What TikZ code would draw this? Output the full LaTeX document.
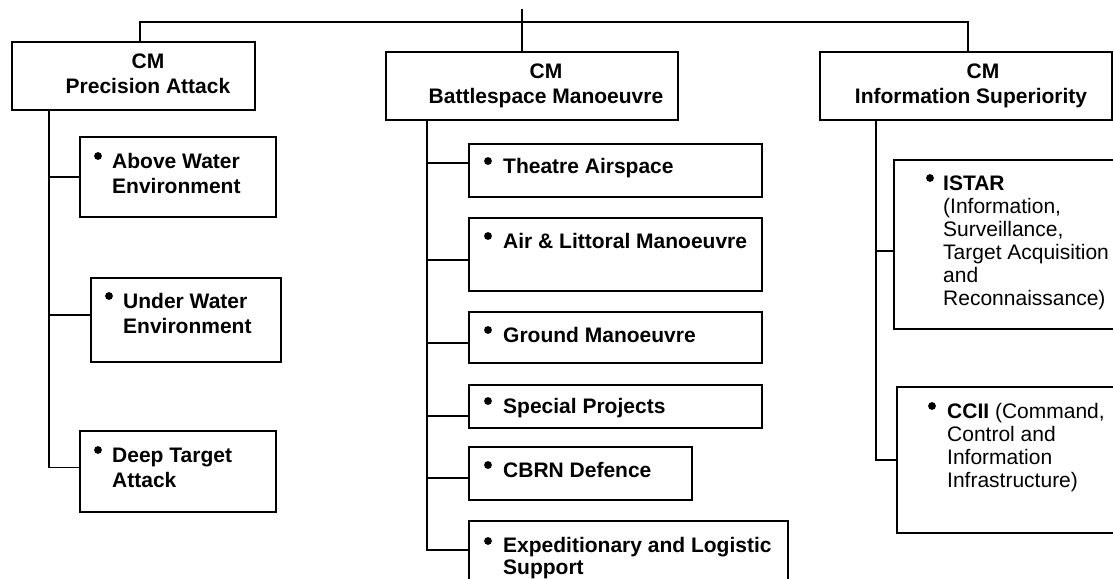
\documentclass[tikz,border=0pt]{standalone}
\usepackage{fontspec}
\setmainfont{Liberation Sans}
\usetikzlibrary{fit}
\begin{document}
\begin{tikzpicture}[x=1pt,y=-1pt,
  box/.style={draw, line width=1.9pt, inner sep=0pt},
  conn/.style={line width=1.9pt},
  head/.style={inner sep=0pt, font=\fontsize{21}{25}\selectfont\bfseries, align=center, anchor=base},
  item/.style={inner sep=0pt, font=\fontsize{21}{25}\selectfont\bfseries, align=left, anchor=base west},
  note/.style={inner sep=0pt, font=\fontsize{21}{23}\selectfont, align=left, anchor=base west},
  dot/.style={fill=black}]
\useasboundingbox (0,0) rectangle (1113,578);

% header boxes
\node[box, fit={(12,42)(255,110)}] (pa) {};
\node[box, fit={(386,52)(678,120)}] (bm) {};
\node[box, fit={(820,52)(1112,120)}] (is) {};
\node[head] (patx) at (148,93) {CM\\Precision Attack};
\node[head] (bmtx) at (546,103) {CM\\Battlespace Manoeuvre};
\node[head] (istx) at (971,103) {\kern24pt CM\\Information Superiority};

% top connectors
\coordinate (root) at (522,9);
\coordinate (bus) at (522,22);
\draw[conn] (root) -- (root |- bm.north);
\draw[conn] ([xshift=6.5pt]pa.north) |- (bus) -| ([xshift=2pt]is.north);

% left column
\node[box, fit={(80,137)(276,217)}] (aw) {};
\node[box, fit={(91,278)(281,362)}] (uw) {};
\node[box, fit={(80,431)(276,512)}] (dt) {};
\fill[dot] (98,156) circle (3.9pt);
\node[item] (awtx) at (112,193) {Above Water\\Environment};
\fill[dot] (109,296) circle (3.9pt);
\node[item] (uwtx) at (123,333) {Under Water\\Environment};
\fill[dot] (98,450) circle (3.9pt);
\node[item] (dttx) at (112,487) {Deep Target\\Attack};

\coordinate (pat) at ([xshift=38pt]pa.south west);
\draw[conn] (pat) |- (aw.west);
\draw[conn] (pat) |- ([yshift=5pt]uw.west);
\draw[conn] (pat) |- ([yshift=4pt]dt.west);

% middle column
\node[box, fit={(469,144)(762,197)}] (ta) {};
\node[box, fit={(469,218)(762,291)}] (al) {};
\node[box, fit={(469,312)(762,363)}] (gm) {};
\node[box, fit={(469,385)(762,428)}] (sp) {};
\node[box, fit={(469,447)(692,500)}] (cb) {};
\node[box, fit={(469,521)(788,600)}] (ex) {};
\fill[dot] (488,161) circle (3.9pt);
\node[item] (tatx) at (503,173) {Theatre Airspace};
\fill[dot] (488,236) circle (3.9pt);
\node[item] (altx) at (503,248) {Air \& Littoral Manoeuvre};
\fill[dot] (488,330) circle (3.9pt);
\node[item] (gmtx) at (503,342) {Ground Manoeuvre};
\fill[dot] (488,401) circle (3.9pt);
\node[item] (sptx) at (503,413) {Special Projects};
\fill[dot] (488,465) circle (3.9pt);
\node[item] (cbtx) at (503,477) {CBRN Defence};
\fill[dot] (488,541) circle (3.9pt);
\node[item] (extx) at (503,574) {Expeditionary and Logistic\\[-3pt]Support};

\coordinate (bmt) at ([xshift=42pt]bm.south west);
\draw[conn] (bmt) |- ([yshift=7.5pt]ta.west);
\draw[conn] (bmt) |- ([yshift=-5.5pt]al.west);
\draw[conn] (bmt) |- ([yshift=-5.5pt]gm.west);
\draw[conn] (bmt) |- ([yshift=-9.5pt]sp.west);
\draw[conn] (bmt) |- ([yshift=-4.5pt]cb.west);
\draw[conn] (bmt) |- ([yshift=10.5pt]ex.west);

% right column
\node[box, fit={(894,160)(1125,329)}] (istar) {};
\node[box, fit={(897,387)(1125,533)}] (cc) {};
\fill[dot] (930,178) circle (3.9pt);
\node[note] (istartx) at (943,305) {\textbf{ISTAR}\\(Information,\\Surveillance,\\Target Acquisition\\and\\Reconnaissance)};
\fill[dot] (932,406) circle (3.9pt);
\node[note] (cctx) at (947,487) {\textbf{CCII} (Command,\\Control and\\Information\\Infrastructure)};

\coordinate (ist) at ([xshift=57pt]is.south west);
\draw[conn] (ist) |- ([yshift=-6.5pt]istar.west);
\draw[conn] (ist) |- (cc.west);
\end{tikzpicture}
\end{document}
